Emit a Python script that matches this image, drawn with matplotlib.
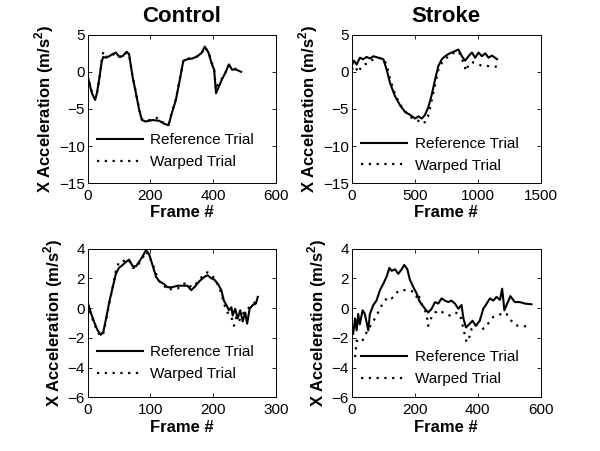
import matplotlib
matplotlib.use("Agg")
import matplotlib.pyplot as plt

plt.rcParams['font.family'] = ['Liberation Sans', 'DejaVu Sans']
plt.rcParams['mathtext.fontset'] = 'custom'
plt.rcParams['mathtext.bf'] = 'Liberation Sans:bold'
plt.rcParams['mathtext.rm'] = 'Liberation Sans'

titles = ["Control", "Stroke"]
legend_labels = ["Reference Trial", "Warped Trial"]
xlabel = "Frame #"
ylabel = r"X Acceleration (m/s$^\mathbf{2}$)"

# ---- Top-left: Control, X acceleration (trial A)
tl_ref_x = [0, 6, 14, 24, 30, 37, 45, 50, 58, 69, 80, 90, 101, 111, 124, 132, 143, 154, 164, 173, 185, 207, 228, 244, 258, 268, 281, 294, 305, 318, 334, 350, 364, 373, 385, 396, 403, 409, 418, 428, 439, 450, 460, 473, 489]
tl_ref_y = [-0.5, -1.6, -2.9, -3.8, -2.8, -1.0, 1.4, 2.0, 1.9, 2.1, 2.4, 2.6, 2.0, 2.1, 2.7, 2.4, -0.6, -2.9, -5.1, -6.5, -6.7, -6.5, -6.6, -7.0, -7.2, -5.6, -3.8, -1.0, 1.5, 1.7, 1.8, 2.1, 2.6, 3.4, 2.6, 1.0, 0.3, -2.9, -2.0, -1.0, -0.1, 1.0, 0.3, 0.3, 0.0]
tl_warp_x = [0, 6, 14, 24, 30, 38, 45, 50, 58, 69, 80, 90, 101, 111, 124, 132, 143, 154, 164, 173, 185, 207, 220, 228, 244, 258, 268, 281, 294, 305, 318, 334, 350, 364, 373, 385, 396, 403, 409, 414, 418, 428, 439, 450, 460, 473, 489]
tl_warp_y = [-0.4, -1.5, -2.8, -3.6, -2.8, -0.8, 1.5, 2.7, 2.0, 2.2, 2.3, 2.5, 2.1, 2.0, 2.6, 2.3, -0.5, -2.8, -5.0, -6.4, -6.6, -6.4, -6.2, -6.6, -6.9, -7.1, -5.5, -3.7, -0.9, 1.5, 1.8, 1.8, 2.1, 2.6, 3.3, 2.7, 1.2, 0.2, -2.4, -1.8, -1.6, -0.9, -0.1, 0.9, 0.4, 0.4, 0.1]

# ---- Top-right: Stroke
tr_ref_x = [0, 19, 40, 66, 93, 119, 146, 172, 212, 252, 278, 305, 345, 384, 424, 464, 504, 530, 557, 583, 610, 636, 663, 689, 716, 742, 769, 795, 822, 848, 875, 901, 928, 955, 981, 1008, 1034, 1061, 1087, 1114, 1154]
tr_ref_y = [0.8, 1.5, 1.0, 1.9, 1.7, 2.0, 1.8, 2.1, 1.9, 1.7, 0.3, -1.5, -3.3, -4.5, -5.4, -5.8, -6.3, -6.0, -6.3, -5.8, -4.7, -3.1, -1.0, 0.8, 1.7, 2.1, 2.4, 2.6, 2.8, 3.0, 2.1, 1.5, 2.1, 2.6, 1.9, 2.6, 2.1, 2.5, 1.9, 2.2, 1.7]
tr_warp_x = [0, 27, 53, 80, 106, 133, 172, 212, 252, 278, 300, 331, 371, 411, 451, 491, 530, 557, 591, 610, 636, 663, 689, 716, 756, 795, 835, 862, 888, 909, 928, 955, 981, 1008, 1034, 1074, 1114, 1154]
tr_warp_y = [0.3, 0.8, -0.1, 0.8, 1.0, 1.2, 1.7, 1.9, 1.7, 1.0, -0.6, -2.4, -4.0, -5.1, -5.8, -6.4, -6.6, -7.0, -6.7, -5.8, -3.8, -1.7, 0.3, 1.2, 1.9, 2.4, 2.8, 2.4, 1.2, 0.1, 1.0, 1.3, 1.2, 1.0, 0.8, 0.8, 0.7, 0.7]

# ---- Bottom-left: Control
bl_ref_x = [0, 5, 11, 16, 21, 25, 29, 35, 40, 45, 50, 56, 61, 66, 72, 77, 82, 88, 93, 98, 104, 109, 114, 122, 127, 135, 143, 151, 159, 165, 170, 178, 186, 191, 197, 202, 207, 213, 217, 221, 225, 229, 231, 235, 239, 243, 247, 251, 254, 258, 263, 268, 271]
bl_ref_y = [0.4, -0.3, -1.0, -1.5, -1.8, -1.6, -0.8, 0.5, 1.4, 2.3, 2.7, 2.9, 3.1, 3.25, 2.8, 2.8, 3.1, 3.5, 3.9, 3.6, 2.8, 2.1, 1.8, 1.6, 1.4, 1.4, 1.5, 1.5, 1.5, 1.2, 1.4, 1.8, 2.1, 2.2, 2.0, 1.9, 1.65, 1.2, 0.5, 0.2, -0.15, 0.05, -0.5, -0.05, -0.7, -0.15, -0.9, -0.3, -1.05, -0.05, 0.2, 0.3, 0.75]
bl_warp_x = [0, 5, 11, 16, 21, 25, 29, 35, 40, 45, 50, 56, 61, 66, 72, 77, 82, 88, 93, 98, 104, 109, 114, 122, 127, 135, 143, 151, 159, 165, 170, 178, 186, 191, 197, 202, 207, 213, 217, 221, 225, 229, 233, 237, 241, 245, 249, 253, 258, 263, 268, 271]
bl_warp_y = [0.3, -0.4, -1.1, -1.6, -1.9, -1.7, -0.9, 0.4, 1.4, 2.5, 3.1, 3.1, 3.3, 3.2, 2.7, 2.7, 3.0, 3.4, 3.8, 3.5, 2.9, 2.3, 1.8, 1.5, 1.2, 1.3, 1.3, 1.6, 1.7, 1.4, 1.5, 1.9, 2.3, 2.4, 2.2, 2.0, 1.6, 1.0, 0.3, -0.1, -0.5, -0.6, -1.2, -0.6, -0.9, -0.5, -0.3, -0.2, 0.1, 0.3, 0.4, 0.5]

# ---- Bottom-right: Stroke
br_ref_x = [0, 5, 11, 16, 21, 26, 35, 42, 53, 58, 69, 79, 90, 101, 111, 120, 127, 138, 148, 159, 167, 177, 185, 196, 206, 217, 233, 243, 254, 265, 275, 286, 296, 307, 317, 328, 339, 349, 355, 363, 373, 384, 394, 407, 418, 429, 439, 450, 460, 471, 478, 485, 492, 504, 518, 534, 550, 571]
br_ref_y = [-1.3, -1.75, -0.7, -1.5, -0.4, -1.1, -0.15, -0.4, -1.5, -0.4, 0.2, 0.5, 1.2, 1.65, 2.1, 2.7, 2.5, 2.6, 2.3, 2.6, 2.9, 2.6, 1.9, 1.4, 1.0, 0.4, -0.05, -0.3, -0.05, 0.4, 0.3, 0.65, 0.5, 0.4, 0.5, 0.3, -0.05, 0.2, -0.7, -1.3, -1.1, -0.85, -1.2, -0.85, -0.05, 0.3, 0.65, 0.5, 0.75, 0.55, 1.3, -0.15, 0.2, 0.8, 0.4, 0.4, 0.3, 0.25]
br_warp_x = [11, 16, 32, 42, 53, 63, 74, 90, 101, 117, 127, 138, 148, 164, 180, 196, 206, 212, 217, 228, 238, 243, 254, 265, 280, 296, 312, 328, 344, 360, 365, 376, 381, 392, 407, 418, 429, 439, 450, 466, 482, 492, 503, 513, 529, 545, 566]
br_warp_y = [-3.3, -2.2, -2.3, -1.85, -1.4, -1.1, -0.7, -0.05, 0.4, 0.75, 0.65, 0.85, 1.15, 1.2, 1.2, 1.1, 0.75, 1.0, 0.5, 0.05, -0.4, -1.2, -0.6, -0.3, -0.15, -0.4, -0.5, -0.3, -0.4, -1.85, -2.3, -1.85, -1.4, -1.1, -1.2, -1.4, -1.2, -0.85, -0.6, -0.5, -0.3, -0.4, -0.7, -1.05, -1.2, -1.2, -1.3]

panels = [
    (tl_ref_x, tl_ref_y, tl_warp_x, tl_warp_y, (0, 600), [0, 200, 400, 600], (-15, 5), [-15, -10, -5, 0, 5], titles[0], 0.215),
    (tr_ref_x, tr_ref_y, tr_warp_x, tr_warp_y, (0, 1500), [0, 500, 1000, 1500], (-15, 5), [-15, -10, -5, 0, 5], titles[1], 0.19),
    (bl_ref_x, bl_ref_y, bl_warp_x, bl_warp_y, (0, 300), [0, 100, 200, 300], (-6, 4), [-6, -4, -2, 0, 2, 4], None, 0.23),
    (br_ref_x, br_ref_y, br_warp_x, br_warp_y, (0, 600), [0, 200, 400, 600], (-6, 4), [-6, -4, -2, 0, 2, 4], None, 0.195),
]

positions = [
    [0.146, 0.594, 0.314, 0.329],
    [0.586, 0.594, 0.315, 0.329],
    [0.146, 0.119, 0.314, 0.330],
    [0.586, 0.119, 0.315, 0.330],
]

fig = plt.figure(figsize=(6.0, 4.51), dpi=100)
for pos, (rx, ry, wx, wy, xl, xt, yl, yt, title, legy) in zip(positions, panels):
    ax = fig.add_axes(pos)
    ax.plot(rx, ry, color='black', lw=1.5, label=legend_labels[0])
    ax.plot(wx, wy, color='black', lw=1.6, linestyle=(0, (1, 2.5)), label=legend_labels[1])
    ax.set_xlim(*xl)
    ax.set_ylim(*yl)
    ax.set_xticks(xt)
    ax.set_yticks(yt)
    ax.tick_params(direction='in', top=True, right=True, length=3, width=0.6, labelsize=11)
    ax.tick_params(axis='x', pad=4)
    ax.tick_params(axis='y', pad=2)
    for s in ax.spines.values():
        s.set_linewidth(0.7)
    ax.set_xlabel(xlabel, fontsize=12, fontweight='bold', labelpad=2)
    ax.set_ylabel(ylabel, fontsize=12, fontweight='bold', labelpad=2)
    if title:
        ax.set_title(title, fontsize=16, fontweight='bold', pad=9)
    ax.legend(loc='center left', bbox_to_anchor=(0.05, legy), frameon=False,
              fontsize=11, handlelength=3.0, handletextpad=0.5, labelspacing=0.5,
              borderpad=0, borderaxespad=0)

fig.savefig("out.png", dpi=100)
